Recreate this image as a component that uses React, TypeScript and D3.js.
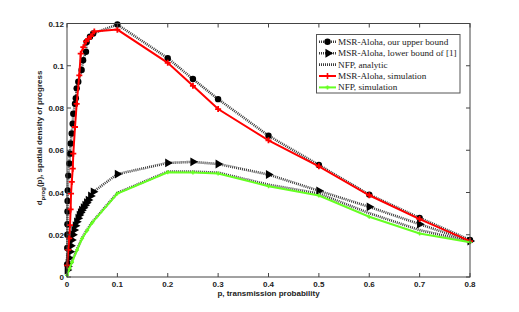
import React, { useEffect, useRef } from "react";
import * as d3 from "d3";

// x ticks / y ticks
const xTicks = [0, 0.1, 0.2, 0.3, 0.4, 0.5, 0.6, 0.7, 0.8];
const yTicks = [0, 0.02, 0.04, 0.06, 0.08, 0.1, 0.12];

// MSR-Aloha, our upper bound
const upperP = [0.0003, 0.0005, 0.0007, 0.0009, 0.001, 0.0012, 0.0015, 0.0026, 0.0046, 0.006, 0.0073, 0.0093, 0.0113, 0.0125, 0.0159, 0.0175, 0.0192, 0.0224, 0.029, 0.032, 0.0377, 0.039, 0.0456, 0.052, 0.1, 0.2, 0.25, 0.3, 0.4, 0.5, 0.6, 0.7, 0.8];
const upperV = [0.006, 0.0137, 0.02, 0.025, 0.031, 0.036, 0.041, 0.048, 0.0537, 0.0584, 0.0632, 0.0679, 0.0726, 0.0773, 0.082, 0.0846, 0.0893, 0.0924, 0.098, 0.1026, 0.1066, 0.1113, 0.1137, 0.1153, 0.1195, 0.1036, 0.0937, 0.0842, 0.0669, 0.053, 0.039, 0.028, 0.0175];

// MSR-Aloha, lower bound of [1]
const lowerP = [0.0005, 0.0015, 0.0026, 0.004, 0.006, 0.0075, 0.0093, 0.0115, 0.0139, 0.0165, 0.0192, 0.022, 0.0244, 0.0268, 0.0292, 0.0325, 0.0357, 0.039, 0.0423, 0.047, 0.0522, 0.1, 0.2, 0.25, 0.3, 0.4, 0.5, 0.6, 0.7, 0.8];
const lowerV = [0.0033, 0.005, 0.0065, 0.009, 0.012, 0.0148, 0.0175, 0.02, 0.0222, 0.0243, 0.0261, 0.0278, 0.0293, 0.0305, 0.0316, 0.0328, 0.034, 0.0352, 0.0364, 0.0384, 0.0403, 0.0487, 0.054, 0.0545, 0.0535, 0.0485, 0.0408, 0.0332, 0.025, 0.017];

// NFP, analytic
const nfpP = [0, 0.005, 0.01, 0.02, 0.03, 0.04, 0.05, 0.1, 0.2, 0.25, 0.3, 0.4, 0.5, 0.6, 0.7, 0.8];
const nfpV = [0.0012, 0.0045, 0.0075, 0.0132, 0.0185, 0.0225, 0.026, 0.0398, 0.0499, 0.0499, 0.0494, 0.0437, 0.0395, 0.0302, 0.0222, 0.0168];

// MSR-Aloha, simulation
const simP = [0.0005, 0.0025, 0.0045, 0.006, 0.0072, 0.008, 0.0095, 0.0114, 0.0125, 0.0159, 0.0192, 0.0244, 0.0272, 0.0324, 0.0377, 0.0423, 0.0476, 0.0542, 0.1, 0.2, 0.25, 0.3, 0.4, 0.5, 0.6, 0.7, 0.8];
const simV = [0.0055, 0.0128, 0.0183, 0.0246, 0.032, 0.0395, 0.045, 0.0513, 0.0584, 0.071, 0.082, 0.0954, 0.1057, 0.1088, 0.1115, 0.1127, 0.114, 0.1162, 0.1171, 0.1014, 0.0905, 0.0795, 0.0647, 0.0524, 0.0387, 0.0274, 0.017];

// NFP, simulation
const nfpSimP = [0, 0.005, 0.01, 0.02, 0.03, 0.04, 0.05, 0.1, 0.2, 0.25, 0.3, 0.4, 0.5, 0.6, 0.7, 0.8];
const nfpSimV = [0.0008, 0.004, 0.007, 0.0128, 0.0182, 0.022, 0.0257, 0.0395, 0.0496, 0.0495, 0.049, 0.043, 0.0386, 0.0285, 0.0206, 0.0164];

const legendLabels = [
  "MSR-Aloha, our upper bound",
  "MSR-Aloha, lower bound of [1]",
  "NFP, analytic",
  "MSR-Aloha, simulation",
  "NFP, simulation",
];

const W = 519;
const H = 312;
const left = 67;
const right = 470;
const top = 23.5;
const bottom = 277;
const green = "#66ff22";
const dotted = { stroke: "#3a3a3a", width: 2.6, dash: "1 1" };

const App = () => {
  const ref = useRef(null);

  useEffect(() => {
    const svg = d3.select(ref.current);
    svg.selectAll("*").remove();

    const x = d3.scaleLinear().domain([0, 0.8]).range([left, right]);
    const y = d3.scaleLinear().domain([0, 0.12]).range([bottom, top]);
    const line = d3.line<[number, number]>().x((d) => x(d[0])).y((d) => y(d[1]));
    const zip = (a: number[], b: number[]) => a.map((p, i) => [p, b[i]] as [number, number]);

    svg.append("rect").attr("x", left).attr("y", top).attr("width", right - left).attr("height", bottom - top).attr("fill", "white");

    const plot = svg.append("g");
    const dotLine = (pts: [number, number][]) =>
      plot.append("path").attr("d", line(pts)).attr("fill", "none")
        .attr("stroke", dotted.stroke).attr("stroke-width", dotted.width).attr("stroke-dasharray", dotted.dash);

    // upper bound
    const up = zip(upperP, upperV);
    dotLine(up);
    plot.selectAll(".up").data(up).enter().append("circle")
      .attr("cx", (d) => x(d[0])).attr("cy", (d) => y(d[1])).attr("r", 3.2).attr("fill", "black");

    // lower bound
    const lo = zip(lowerP, lowerV);
    dotLine(lo);
    const tri = d3.symbol().type(d3.symbolTriangle).size(34);
    plot.selectAll(".lo").data(lo).enter().append("path")
      .attr("d", tri).attr("fill", "black")
      .attr("transform", (d) => `translate(${x(d[0])},${y(d[1])}) rotate(90)`);

    // NFP analytic
    dotLine(zip(nfpP, nfpV));

    const plus = (s: number) => `M${-s},0H${s}M0,${-s}V${s}`;

    // MSR-Aloha simulation
    const sim = zip(simP, simV);
    plot.append("path").attr("d", line(sim)).attr("fill", "none").attr("stroke", "red").attr("stroke-width", 2);
    plot.selectAll(".sim").data(sim).enter().append("path")
      .attr("d", plus(3)).attr("stroke", "red").attr("stroke-width", 1.8)
      .attr("transform", (d) => `translate(${x(d[0])},${y(d[1])})`);

    // NFP simulation
    const ns = zip(nfpSimP, nfpSimV);
    plot.append("path").attr("d", line(ns)).attr("fill", "none").attr("stroke", green).attr("stroke-width", 2);
    plot.selectAll(".ns").data(ns).enter().append("path")
      .attr("d", plus(2)).attr("stroke", green).attr("stroke-width", 1.4)
      .attr("transform", (d) => `translate(${x(d[0])},${y(d[1])})`);

    // frame + ticks
    const ax = svg.append("g").attr("stroke", "#444").attr("stroke-width", 1);
    ax.append("rect").attr("x", left).attr("y", top).attr("width", right - left).attr("height", bottom - top).attr("fill", "none");
    xTicks.forEach((t) => {
      ax.append("line").attr("x1", x(t)).attr("x2", x(t)).attr("y1", bottom).attr("y2", bottom - 4);
      ax.append("line").attr("x1", x(t)).attr("x2", x(t)).attr("y1", top).attr("y2", top + 4);
    });
    yTicks.forEach((t) => {
      ax.append("line").attr("x1", left).attr("x2", left + 4).attr("y1", y(t)).attr("y2", y(t));
      ax.append("line").attr("x1", right).attr("x2", right - 4).attr("y1", y(t)).attr("y2", y(t));
    });

    const font = "Liberation Sans, Arial, sans-serif";
    const labels = svg.append("g").attr("font-family", font).attr("font-size", 8).attr("font-weight", "bold").attr("fill", "#222");
    xTicks.forEach((t) => {
      labels.append("text").attr("x", x(t)).attr("y", bottom + 10).attr("text-anchor", "middle").text(d3.format("~g")(t));
    });
    yTicks.forEach((t) => {
      labels.append("text").attr("x", left - 3).attr("y", y(t) + 3).attr("text-anchor", "end").text(d3.format("~g")(t));
    });
    labels.append("text").attr("x", (left + right) / 2).attr("y", bottom + 19).attr("text-anchor", "middle").text("p, transmission probability");

    const yl = labels.append("text").attr("transform", "translate(42,138) rotate(-90)").attr("text-anchor", "middle");
    yl.append("tspan").text("d");
    yl.append("tspan").attr("font-size", 6).attr("dy", 2.5).text("prog");
    yl.append("tspan").attr("dy", -2.5).text("(p), spatial density of progress");

    // legend
    const lg = svg.append("g");
    lg.append("rect").attr("x", 316.5).attr("y", 34.5).attr("width", 143.5).attr("height", 58.5)
      .attr("fill", "white").attr("stroke", "#555").attr("stroke-width", 1);
    legendLabels.forEach((name, i) => {
      const cy = 41.8 + i * 11.4;
      const g = lg.append("g");
      if (i < 3) {
        g.append("line").attr("x1", 319).attr("x2", 336).attr("y1", cy).attr("y2", cy)
          .attr("stroke", dotted.stroke).attr("stroke-width", dotted.width).attr("stroke-dasharray", dotted.dash);
      } else {
        g.append("line").attr("x1", 319).attr("x2", 336).attr("y1", cy).attr("y2", cy)
          .attr("stroke", i === 3 ? "red" : green).attr("stroke-width", 2);
        g.append("path").attr("d", plus(i === 3 ? 3 : 2)).attr("stroke", i === 3 ? "red" : green)
          .attr("stroke-width", 1.6).attr("transform", `translate(327.5,${cy})`);
      }
      if (i === 0) g.append("circle").attr("cx", 327.5).attr("cy", cy).attr("r", 3.2).attr("fill", "black");
      if (i === 1) g.append("path").attr("d", tri).attr("fill", "black").attr("transform", `translate(328,${cy}) rotate(90)`);
      g.append("text").attr("x", 338).attr("y", cy + 3).attr("font-family", "Liberation Serif, serif")
        .attr("font-size", 9.2).attr("fill", "#222").text(name);
    });
  }, []);

  return (
    <svg
      ref={ref}
      width={W}
      height={H}
      style={{ position: "absolute", left: 0, top: 0, background: "white" }}
    />
  );
};

export default App;
